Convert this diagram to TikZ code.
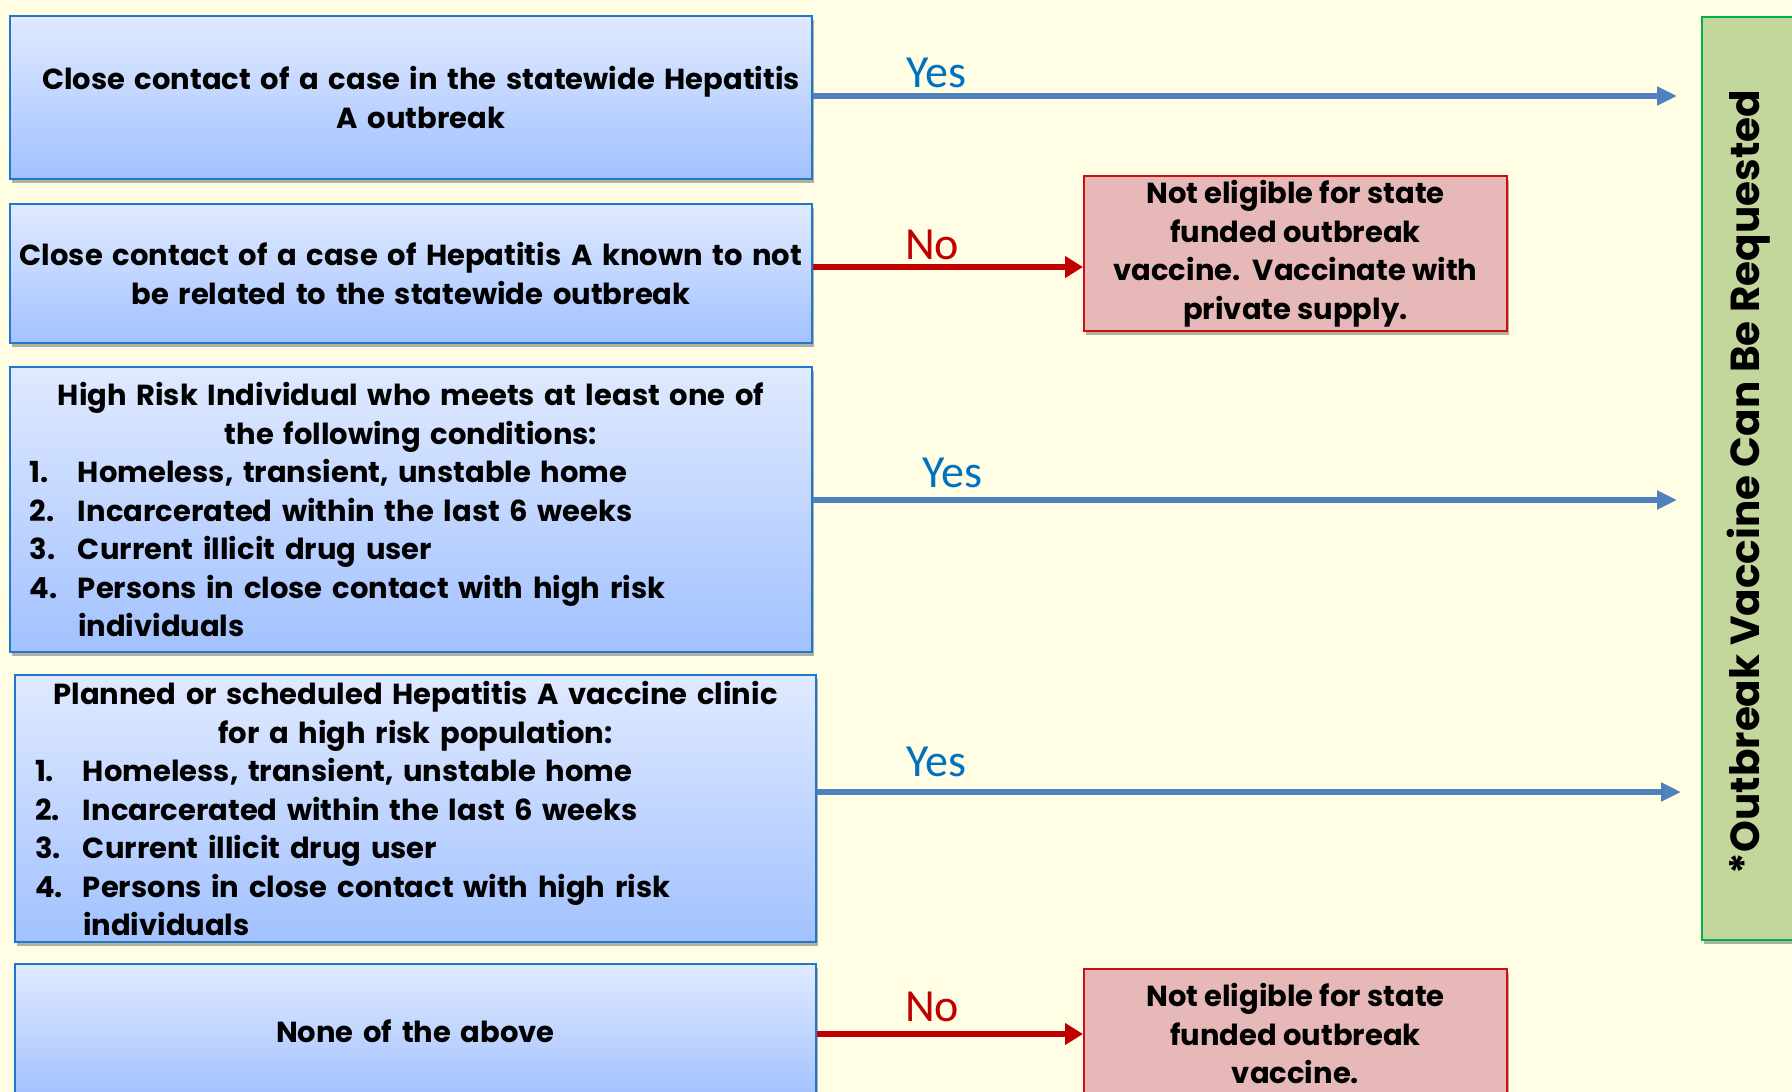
\documentclass[tikz,border=0pt]{standalone}
\usepackage{fontspec}
\setmainfont{Poppins}
\newfontfamily\yesfont{Carlito}
\usetikzlibrary{arrows.meta,shadows,calc}
\definecolor{bg}{RGB}{255,253,227}
\definecolor{btop}{RGB}{224,234,255}
\definecolor{bbot}{RGB}{162,193,255}
\definecolor{bline}{RGB}{32,120,205}
\definecolor{rfill}{RGB}{230,184,183}
\definecolor{rline}{RGB}{200,16,16}
\definecolor{gfill}{RGB}{195,214,155}
\definecolor{gline}{RGB}{0,176,80}
\definecolor{yesblue}{RGB}{0,112,192}
\definecolor{arrblue}{RGB}{79,129,189}
\definecolor{nored}{RGB}{192,0,0}
\newcommand\boxtext{\fontsize{29}{38.5}\selectfont\bfseries}
\newcommand\litem[2]{\makebox[48pt][l]{#1}#2}
\tikzset{
  bluebox/.style={draw=bline, line width=2pt, top color=btop, bottom color=bbot,
    anchor=north west, inner sep=0pt, font=\boxtext,
    drop shadow={shadow xshift=2pt, shadow yshift=-4pt, opacity=0.3, fill=black}},
  redbox/.style={draw=rline, line width=2pt, fill=rfill, anchor=north west,
    inner sep=0pt, font=\boxtext, align=center,
    drop shadow={shadow xshift=2pt, shadow yshift=-4pt, opacity=0.3, fill=black}},
  greenbox/.style={draw=gline, line width=2pt, fill=gfill,
    drop shadow={shadow xshift=2pt, shadow yshift=-4pt, opacity=0.3, fill=black}},
  yesarrow/.style={draw=arrblue, line width=5.5pt, -{Triangle[length=20pt,width=18pt]}},
  noarrow/.style={draw=nored, line width=6.5pt, -{Triangle[length=18pt,width=21pt]}},
  yeslbl/.style={font=\yesfont\fontsize{46}{50}\selectfont, text=yesblue, inner sep=0pt},
  nolbl/.style={font=\yesfont\fontsize{46}{50}\selectfont, text=nored, inner sep=0pt},
}
\begin{document}
\begin{tikzpicture}[x=1pt,y=-1pt]
\useasboundingbox (0,0) rectangle (1792,1092);
\clip (0,0) rectangle (1792,1092);
\fill[bg] (0,0) rectangle (1792,1092);

% blue boxes
\node[bluebox, minimum width=802pt, minimum height=163pt, text width=796pt, align=center] (b1) at (9,15)
  {\hspace*{20pt}Close contact of a case in the statewide Hepatitis\\\hspace*{20pt}A outbreak};
\node[bluebox, minimum width=802pt, minimum height=139pt, text width=798pt, align=center] (b2) at (9,203)
  {Close contact of a case of Hepatitis A known to not\\be related to the statewide outbreak};
\node[bluebox, minimum width=802pt, minimum height=285pt, text width=762pt, align=left] (b3) at (9,366)
  {\parbox{762pt}{\centering High Risk Individual who meets at least one of\\the following conditions:\par
   \raggedright\noindent\litem{1.}{Homeless, transient, unstable home}\\
   \litem{2.}{Incarcerated within the last 6 weeks}\\
   \litem{3.}{Current illicit drug user}\\
   \litem{4.}{Persons in close contact with high risk}\\
   \litem{}{individuals}}};
\node[bluebox, minimum width=801pt, minimum height=267pt, text width=761pt, align=left] (b4) at (14,674)
  {\parbox{761pt}{\centering Planned or scheduled Hepatitis A vaccine clinic\\for a high risk population:\par
   \raggedright\noindent\litem{1.}{Homeless, transient, unstable home}\\
   \litem{2.}{Incarcerated within the last 6 weeks}\\
   \litem{3.}{Current illicit drug user}\\
   \litem{4.}{Persons in close contact with high risk}\\
   \litem{}{individuals}}};
\node[bluebox, minimum width=801pt, minimum height=134pt, text width=761pt, align=center] (b5) at (14,963)
  {None of the above};

% red boxes
\node[redbox, minimum width=423pt, minimum height=155pt] (r1) at (1083,175)
  {Not eligible for state\\funded outbreak\\vaccine.\ \ Vaccinate with\\private supply.};
\node[redbox, minimum width=423pt, minimum height=129pt] (r2) at (1083,968)
  {Not eligible for state\\funded outbreak\\vaccine.};

% green box
\node[greenbox, minimum width=94pt, minimum height=923pt, inner sep=0pt] (g) at (1749,478.5) {};
\node[rotate=90, font=\fontsize{40.5}{44}\selectfont\bfseries, inner sep=0pt] (gt) at (1749,482)
  {*Outbreak Vaccine Can Be Requested};

% connectors
\draw[yesarrow] ([yshift=1.5pt]b1.east) -- ([yshift=1.5pt]b1.east -| g.west) [shorten >=24pt];
\draw[noarrow] ([yshift=6.5pt]b2.east) -- ([yshift=6.5pt]b2.east -| r1.west);
\draw[yesarrow] ([yshift=9.5pt]b3.east) -- ([yshift=9.5pt]b3.east -| g.west) [shorten >=24pt];
\draw[yesarrow] ([yshift=16.5pt]b4.east) -- ([yshift=16.5pt]b4.east -| g.west) [shorten >=20pt];
\draw[noarrow] ([yshift=-3pt]b5.east) -- ([yshift=-3pt]b5.east -| r2.west);

% labels
\node[yeslbl] (y1) at (936,73) {Yes};
\node[nolbl] (n1) at (932,245) {No};
\node[yeslbl] (y2) at (952,473) {Yes};
\node[yeslbl] (y3) at (936,762) {Yes};
\node[nolbl] (n2) at (932,1007) {No};
\end{tikzpicture}
\end{document}
